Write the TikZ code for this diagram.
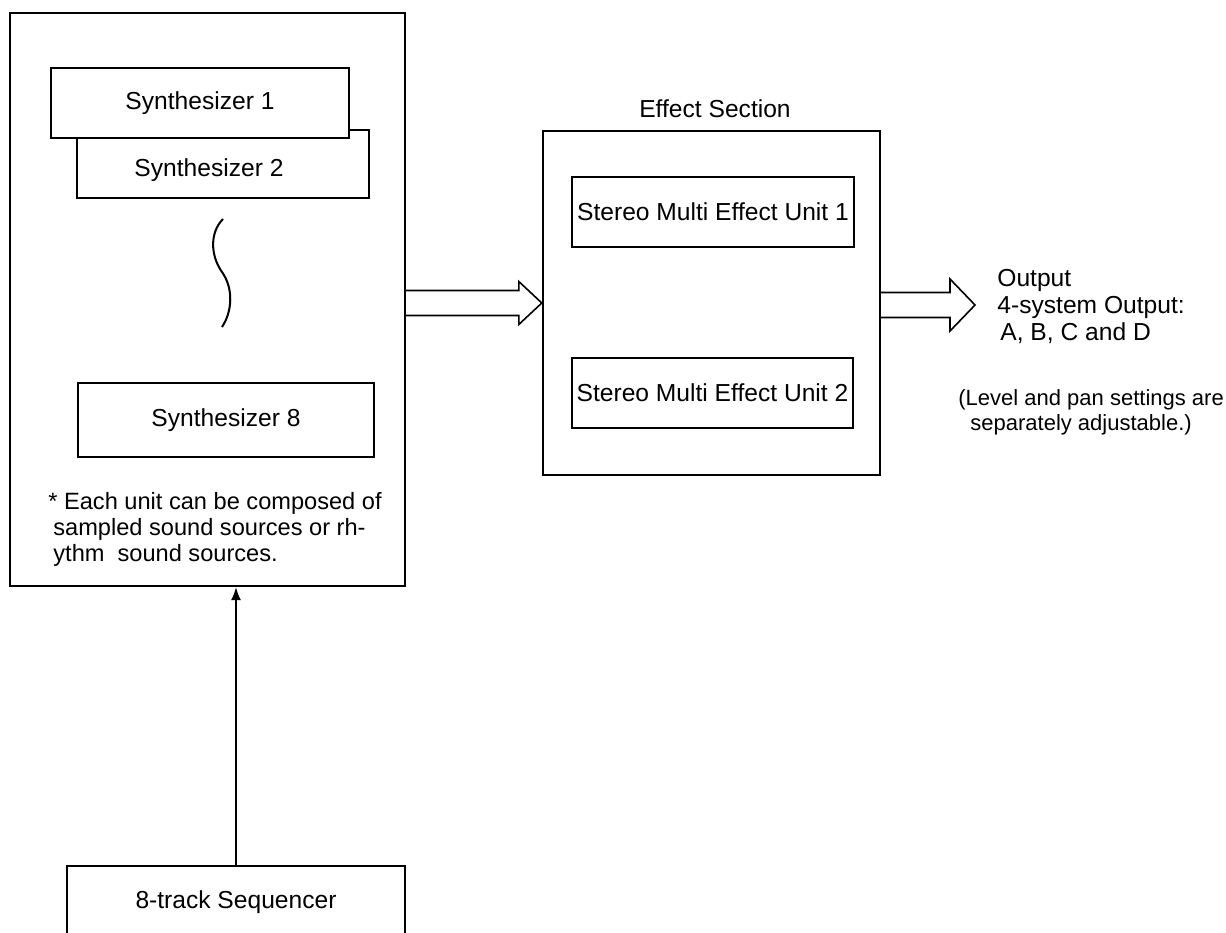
\documentclass[tikz,border=0pt]{standalone}
\usepackage{fontspec}
\setmainfont{Liberation Sans}
\usetikzlibrary{calc,arrows.meta}
\begin{document}
\begin{tikzpicture}[x=0.5pt,y=-0.5pt,
  txt/.style={font=\fontsize{12.3}{14}\selectfont, inner sep=0pt},
  notetxt/.style={font=\fontsize{11.8}{14}\selectfont, inner sep=0pt},
  smalltxt/.style={font=\fontsize{11}{13}\selectfont, inner sep=0pt},
  outer/.style={draw, line width=1.2pt, inner sep=0pt},
  unitbox/.style={draw, line width=1.1pt, fill=white, inner sep=0pt, font=\fontsize{12.3}{14}\selectfont},
  hollow/.style={draw, line width=0.8pt, line join=miter},
  conn/.style={line width=0.7pt, -{Latex[length=6.5pt,width=5pt]}}]
\useasboundingbox[fill=white] (0,0) rectangle (1226,932);
\clip (0,0) rectangle (1226,932);

% synthesizer section
\node[outer, minimum width=197.5pt, minimum height=286.5pt] (big) at (207.5,299.5) {};
\node[unitbox, minimum width=146pt, minimum height=34pt] (s2) at (223,164) {};
\node[txt] (s2t) at (209,170) {Synthesizer 2};
\node[unitbox, minimum width=149pt, minimum height=35pt] (s1) at (200,103) {Synthesizer 1};
\draw[line width=1pt] (223,219) .. controls (210,232) and (210,255) .. (222,272)
  .. controls (234,289) and (232,312) .. (222,327);
\node[unitbox, minimum width=148pt, minimum height=37pt] (s8) at (226,420) {Synthesizer 8};
\node[notetxt, anchor=base west] (n1) at (48,509) {*\ Each unit can be composed of};
\node[notetxt, anchor=base west] (n2) at (53,535) {sampled sound sources or rh-};
\node[notetxt, anchor=base west] (n3) at (53,561) {ythm\ \ sound sources.};

% effect section
\node[txt] (efflabel) at (715,109) {Effect Section};
\node[outer, minimum width=168.5pt, minimum height=172pt] (eff) at (711.5,303) {};
\node[unitbox, minimum width=141pt, minimum height=35pt] (u1) at (713,212) {Stereo Multi Effect Unit 1};
\node[unitbox, minimum width=140.5pt, minimum height=35pt] (u2) at (712.5,393) {Stereo Multi Effect Unit 2};

% sequencer
\node[unitbox, line width=1.2pt, minimum width=169pt, minimum height=36pt] (seq) at (236,902) {8-track Sequencer};
\draw[conn] (seq.north) -- (seq.north|-big.south);

% hollow arrow synth -> effect
\draw[hollow] ($(big.east|-eff.west)+(0,-12.5)$) -- ($(eff.west)+(-23,-12.5)$)
  -- ($(eff.west)+(-23,-21.5)$) -- (eff.west) -- ($(eff.west)+(-23,21.5)$)
  -- ($(eff.west)+(-23,12.5)$) -- ($(big.east|-eff.west)+(0,12.5)$);

% output arrow
\coordinate (outtip) at (975,305);
\draw[hollow] ($(eff.east|-outtip)+(0,-12.5)$) -- ($(outtip)+(-25,-12.5)$)
  -- ($(outtip)+(-25,-26)$) -- (outtip) -- ($(outtip)+(-25,26)$)
  -- ($(outtip)+(-25,12.5)$) -- ($(eff.east|-outtip)+(0,12.5)$);

% output texts
\node[txt, anchor=base west] (o1) at (997,286) {Output};
\node[txt, anchor=base west] (o2) at (997,313) {4-system Output:};
\node[txt, anchor=base west] (o3) at (1000,340) {A, B, C and D};
\node[smalltxt, anchor=base west] (l1) at (958,405) {(Level and pan settings are};
\node[smalltxt, anchor=base west] (l2) at (970,430) {separately adjustable.)};
\end{tikzpicture}
\end{document}
